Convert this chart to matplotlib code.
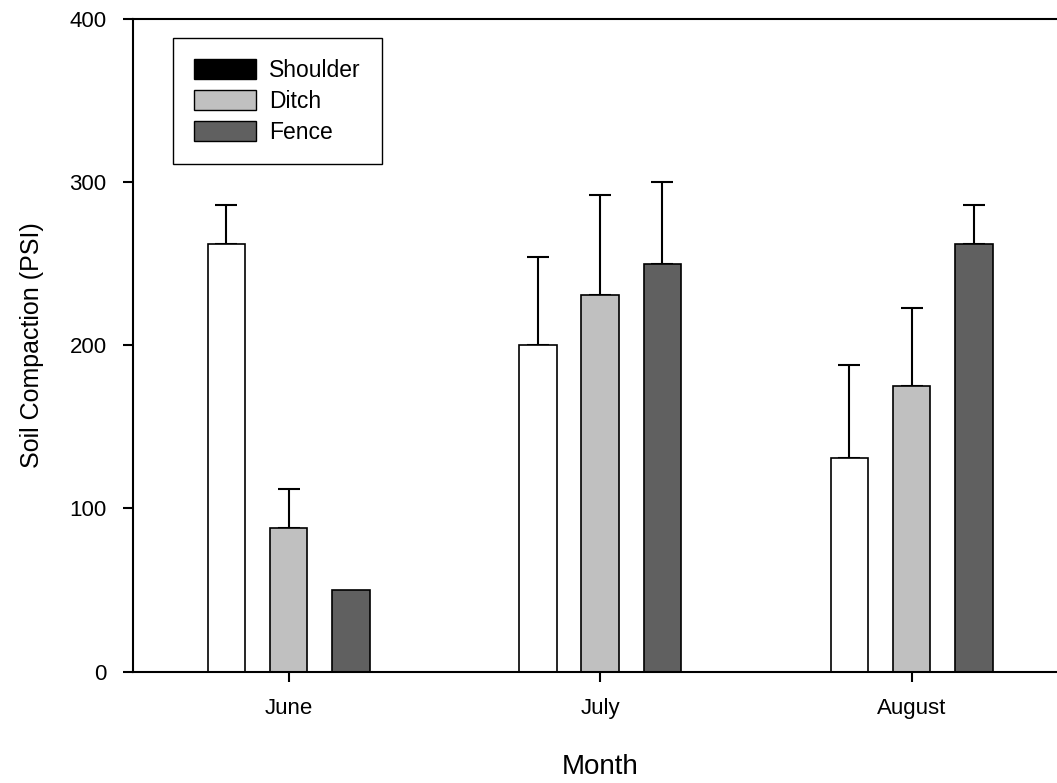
import numpy as np
import matplotlib
matplotlib.use('Agg')
import matplotlib.pyplot as plt
from matplotlib.patches import Patch

plt.rcParams['font.family'] = ['Liberation Sans', 'DejaVu Sans']

months = ['June', 'July', 'August']
shoulder = [262, 200, 131]
shoulder_err = [24, 54, 57]
ditch = [88, 231, 175]
ditch_err = [24, 61, 48]
fence = [50, 250, 262]
fence_err = [0, 50, 24]

fig = plt.figure(figsize=(10.57, 7.83), dpi=100)
ax = fig.add_axes([0.1258, 0.1424, 0.884, 0.8333])

x = np.arange(len(months))
w = 0.12
off = 0.2

series = [(shoulder, shoulder_err, 'white', -off),
          (ditch, ditch_err, '#c0c0c0', 0),
          (fence, fence_err, '#606060', off)]
for vals, errs, col, dx in series:
    ax.bar(x + dx, vals, w, color=col, edgecolor='black', linewidth=1.2, zorder=2)
    # only upper error bars, skip zero ones
    idx = [i for i in range(len(vals)) if errs[i] > 0]
    ax.errorbar(x[idx] + dx, np.array(vals)[idx],
                yerr=[np.zeros(len(idx)), np.array(errs)[idx]],
                fmt='none', ecolor='black', elinewidth=1.5, capsize=8, capthick=1.5, zorder=1)

ax.set_xlim(-0.5, 2.5)
ax.set_ylim(0, 400)
ax.set_yticks([0, 100, 200, 300, 400])
ax.set_xticks(x)
ax.set_xticklabels(months)
ax.tick_params(axis='both', direction='out', length=7, width=1.5, labelsize=16)
ax.tick_params(axis='x', pad=12)
ax.tick_params(axis='y', pad=12)
for s in ['left', 'top', 'bottom']:
    ax.spines[s].set_linewidth(1.5)
ax.spines['right'].set_visible(False)

ax.set_xlabel('Month', fontsize=20, labelpad=25)
ax.set_ylabel('Soil Compaction (PSI)', fontsize=18, labelpad=18)

handles = [Patch(facecolor='black', edgecolor='black', label='Shoulder'),
           Patch(facecolor='#c0c0c0', edgecolor='black', label='Ditch'),
           Patch(facecolor='#606060', edgecolor='black', label='Fence')]
leg = ax.legend(handles=handles, loc='upper left', bbox_to_anchor=(0.043, 0.971),
                borderaxespad=0, fontsize=16.5, handlelength=2.7, handleheight=0.95,
                fancybox=False, framealpha=1, edgecolor='black',
                borderpad=0.9, labelspacing=0.35, handletextpad=0.6)
leg.get_frame().set_linewidth(1.0)

fig.savefig('out.png', dpi=100)
